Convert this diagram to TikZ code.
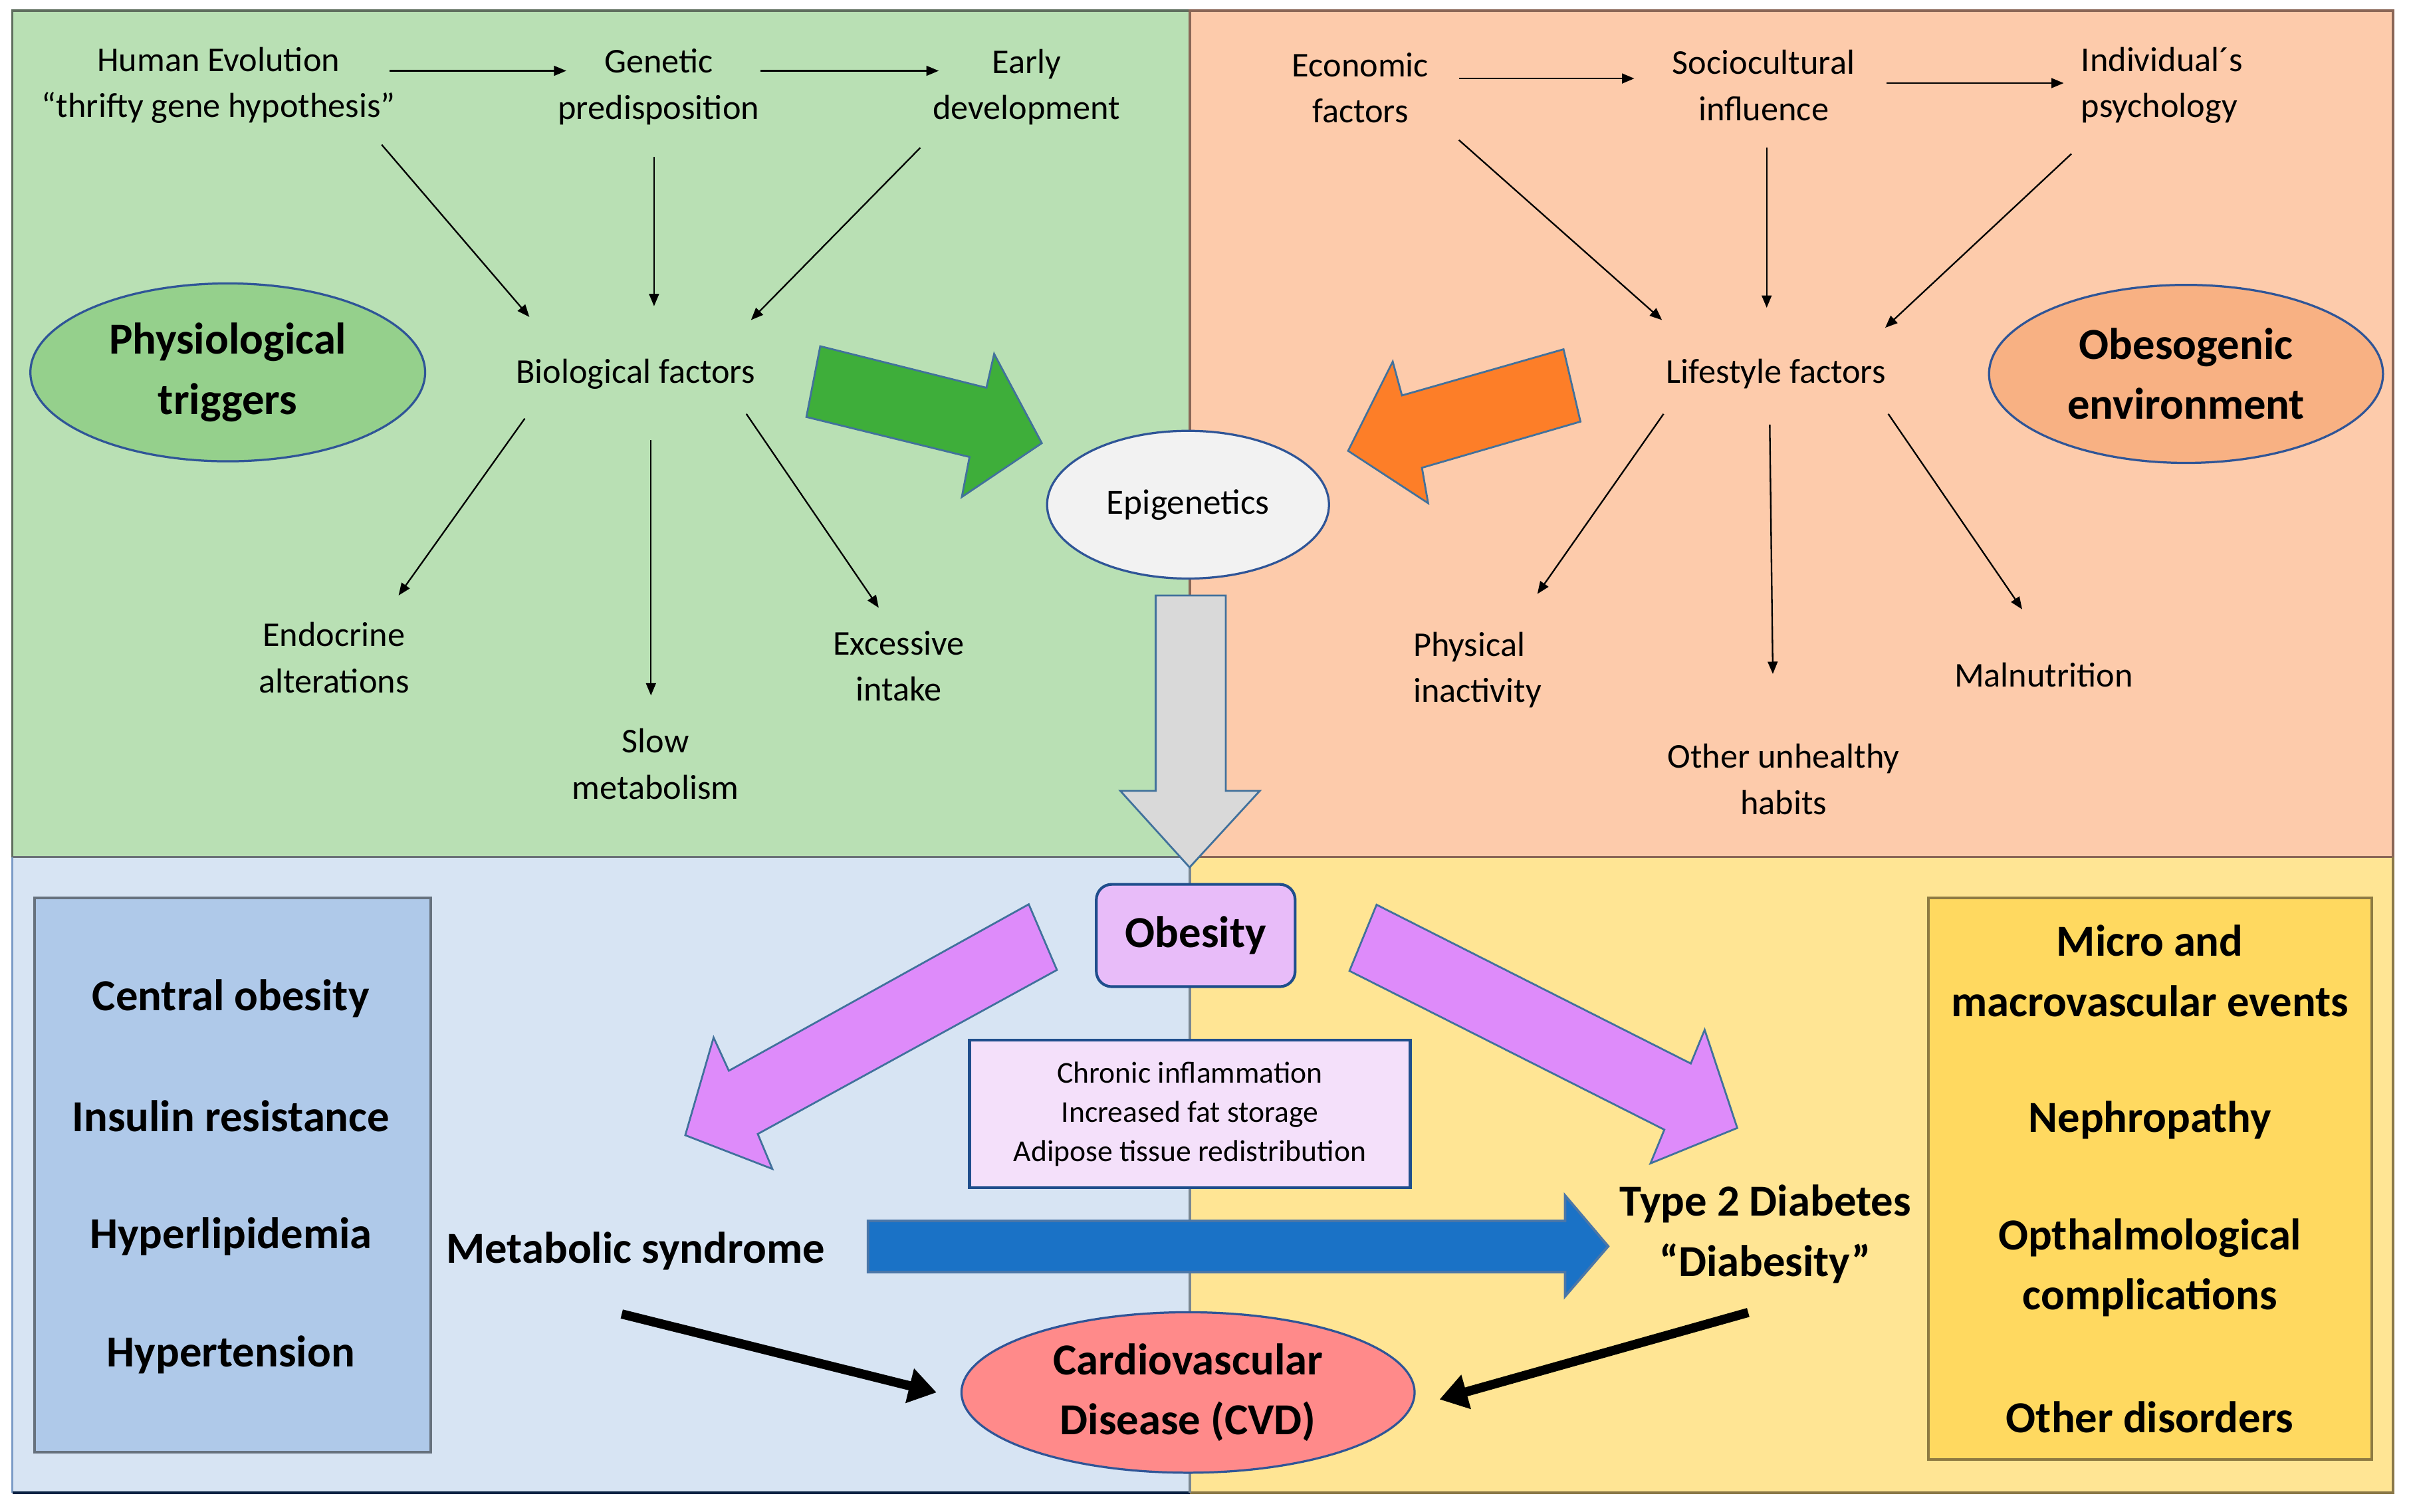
\documentclass[tikz,border=0pt]{standalone}
\usepackage{fontspec}
\setmainfont{Carlito}
\usetikzlibrary{arrows.meta,shapes.geometric}
\definecolor{qgreen}{HTML}{B9E0B4}
\definecolor{qpeach}{HTML}{FDCBAB}
\definecolor{qblue}{HTML}{D7E4F3}
\definecolor{qyellow}{HTML}{FFE594}
\definecolor{greenedge}{HTML}{5F6E5E}
\definecolor{peachedge}{HTML}{8A6656}
\definecolor{yellowedge}{HTML}{8A7848}
\definecolor{navyedge}{HTML}{0B2344}
\definecolor{leftblue}{HTML}{7B9BC6}
\definecolor{divgray}{HTML}{6B7178}
\definecolor{midgray}{HTML}{7A8791}
\definecolor{boxblue}{HTML}{AFC9E9}
\definecolor{boxblueedge}{HTML}{66717D}
\definecolor{boxyellow}{HTML}{FFD960}
\definecolor{boxyellowedge}{HTML}{8E7A42}
\definecolor{ellgreen}{HTML}{95D08C}
\definecolor{ellorange}{HTML}{F8B183}
\definecolor{ellgray}{HTML}{F2F2F2}
\definecolor{ellred}{HTML}{FF8A8A}
\definecolor{elledge}{HTML}{2F5597}
\definecolor{obfill}{HTML}{E8BCF9}
\definecolor{chfill}{HTML}{F4E0FA}
\definecolor{darkedge}{HTML}{1F4E8C}
\definecolor{arrowedge}{HTML}{41719C}
\definecolor{agreen}{HTML}{3EAE3A}
\definecolor{aorange}{HTML}{FD7E28}
\definecolor{apurple}{HTML}{DE8BFA}
\definecolor{ablue}{HTML}{1A72C6}
\definecolor{ablueedge}{HTML}{4A76A8}
\definecolor{agray}{HTML}{D9D9D9}

\tikzset{
  lab/.style={align=center, inner sep=0pt, font=\fontsize{11.3}{15}\selectfont},
  big/.style={align=center, inner sep=0pt, font=\fontsize{14.4}{19.5}\selectfont\bfseries},
  tarrow/.style={line width=0.5pt, -{Triangle[length=4pt,width=3.2pt]}},
  fatarrow/.style={line width=3pt, -{Triangle[length=9pt,width=11pt]}},
  blockarrow/.style={draw=arrowedge, line width=0.6pt, line join=miter},
  quadedge/.style={line width=0.85pt},
  oval/.style={ellipse, draw=elledge, line width=0.7pt, inner sep=0pt},
}

\begin{document}
\begin{tikzpicture}[x=0.5pt,y=-0.5pt]
\useasboundingbox (0,0) rectangle (1568,982.3);

% quadrants
\fill[qgreen] (8,7) rectangle (773,557);
\fill[qpeach] (773,7) rectangle (1555,557);
\fill[qblue] (8,557) rectangle (773,970);
\fill[qyellow] (773,557) rectangle (1555,970);
\draw[greenedge,quadedge] (773,7) -- (8,7) -- (8,557);
\draw[divgray,quadedge] (8,557) -- (773,557);
\draw[peachedge,quadedge] (773,557) -- (773,7) -- (1555,7) -- (1555,557) -- cycle;
\draw[leftblue,quadedge] (8,557) -- (8,970);
\draw[navyedge,quadedge] (8,970) -- (773,970);
\draw[yellowedge,quadedge] (773,970) -- (1555,970) -- (1555,557);
\draw[midgray,quadedge] (773,557) -- (773,970);

% top-left labels
\node[lab] (hum) at (142,55.5) {Human Evolution\\“thrifty gene hypothesis”};
\node[lab] (gen) at (428,56.5) {Genetic\\predisposition};
\node[lab] (early) at (667,56.5) {Early\\development};
\node[lab] (bio) at (413,243) {Biological factors};
\node[lab] (endo) at (217,427.5) {Endocrine\\alterations};
\node[lab] (slow) at (426,496.5) {Slow\\metabolism};
\node[lab] (exc) at (584,433) {Excessive\\intake};

% top-right labels
\node[lab] (eco) at (884,57) {Economic\\factors};
\node[lab] (soc) at (1146,55.5) {Sociocultural\\influence};
\node[lab, align=left] (ind) at (1405,55.5) {Individual´s\\psychology};
\node[lab] (life) at (1154,243) {Lifestyle factors};
\node[lab, align=left] (phys) at (960,435.5) {Physical\\inactivity};
\node[lab] (other) at (1159,506.5) {Other unhealthy\\habits};
\node[lab] (mal) at (1328,438.5) {Malnutrition};

% thin arrows, left
\draw[tarrow] ([shift={(111,-9.5)}]hum.center) -- ([shift={(-60,-10.5)}]gen.center);
\draw[tarrow] ([shift={(66,-10.5)}]gen.center) -- ([shift={(-57,-10.5)}]early.center);
\draw[tarrow] ([shift={(106,38.5)}]hum.center) -- ([shift={(-69,-37)}]bio.center);
\draw[tarrow] ([shift={(-3,45.5)}]gen.center) -- ([shift={(12,-44)}]bio.center);
\draw[tarrow] ([shift={(-69,39.5)}]early.center) -- ([shift={(75,-35)}]bio.center);
\draw[tarrow] ([shift={(-72,29)}]bio.center) -- ([shift={(42,-40.5)}]endo.center);
\draw[tarrow] ([shift={(10,43)}]bio.center) -- ([shift={(-3,-44.5)}]slow.center);
\draw[tarrow] ([shift={(72,26)}]bio.center) -- ([shift={(-13,-38)}]exc.center);

% thin arrows, right
\draw[tarrow] ([shift={(64,-6)}]eco.center) -- ([shift={(-84,-4.5)}]soc.center);
\draw[tarrow] ([shift={(80,-1.5)}]soc.center) -- ([shift={(-64,-1.5)}]ind.center);
\draw[tarrow] ([shift={(64,34)}]eco.center) -- ([shift={(-74,-35)}]life.center);
\draw[tarrow] ([shift={(2,40.5)}]soc.center) -- ([shift={(-6,-43)}]life.center);
\draw[tarrow] ([shift={(-59,44.5)}]ind.center) -- ([shift={(71,-30)}]life.center);
\draw[tarrow] ([shift={(-73,26)}]life.center) -- ([shift={(39,-49.5)}]phys.center);
\draw[tarrow] ([shift={(-4,33)}]life.center) -- ([shift={(-7,-68.5)}]other.center);
\draw[tarrow] ([shift={(73,26)}]life.center) -- ([shift={(-14,-42.5)}]mal.center);

% ellipses top
\node[oval, fill=ellgreen, minimum width=128.25pt, minimum height=57.8pt, big] (physio) at (148,242) {Physiological\\triggers};
\node[oval, fill=ellorange, minimum width=128pt, minimum height=57.85pt, big] (obeso) at (1420.5,243) {Obesogenic\\environment};
\node[oval, fill=ellgray, minimum width=91.6pt, minimum height=48pt, font=\fontsize{11.5}{14}\selectfont] (epi) at (772,328) {Epigenetics};

% block arrows top
\filldraw[blockarrow, fill=agreen] (533,225) -- (641,252) -- (646,230) -- (677,288) -- (625,323) -- (630,297) -- (524,271) -- cycle;
\filldraw[blockarrow, fill=aorange] (1016,227) -- (1027,274) -- (924,304) -- (928,327) -- (876,293) -- (905,235) -- (911,257) -- cycle;
\filldraw[blockarrow, fill=agray] (751,387) -- (796.5,387) -- (796.5,514) -- (818.6,514) -- (773,563.7) -- (728,514) -- (751,514) -- cycle;

% bottom block arrows
\filldraw[blockarrow, fill=apurple] (668.5,587.7) -- (686.8,630.4) -- (492.4,737) -- (501.9,759.7) -- (445.3,737.8) -- (463.7,674.3) -- (473.6,695.9) -- cycle;
\filldraw[blockarrow, fill=apurple] (894.5,588) -- (1098.7,691.2) -- (1107.7,669.3) -- (1128.9,733.1) -- (1072.5,756.1) -- (1081.5,734.2) -- (876.9,631) -- cycle;
\filldraw[draw=ablueedge, line width=0.8pt, fill=ablue, line join=miter] (564,793.5) -- (1017,793.5) -- (1017,777) -- (1045,810) -- (1017,842.5) -- (1017,826.7) -- (564,826.7) -- cycle;

% center boxes
\node[draw=darkedge, fill=obfill, line width=0.9pt, rounded corners=5pt, minimum width=64.6pt, minimum height=33.25pt, big] (obe) at (777,608) {Obesity};
\node[draw=darkedge, fill=chfill, line width=0.9pt, minimum width=143.2pt, minimum height=48pt, inner sep=0pt, align=center, font=\fontsize{9.85}{12.8}\selectfont] (chr) at (773.2,724) {Chronic inflammation\\Increased fat storage\\Adipose tissue redistribution};

% side boxes
\node[draw=boxblueedge, fill=boxblue, line width=0.85pt, minimum width=128.75pt, minimum height=180.15pt, inner sep=0pt] (mbox) at (151.2,763.8) {};
\node[big] (co) at (150,649) {Central obesity};
\node[big] (ir) at (150,725.5) {Insulin resistance};
\node[big] (hl) at (150,803.5) {Hyperlipidemia};
\node[big] (ht) at (150,880.5) {Hypertension};

\node[draw=boxyellowedge, fill=boxyellow, line width=0.85pt, minimum width=144pt, minimum height=182.5pt, inner sep=0pt] (dbox) at (1397,766) {};
\node[big] (micro) at (1397,631) {Micro and\\macrovascular events};
\node[big] (neph) at (1397,728) {Nephropathy};
\node[big] (opth) at (1397,824) {Opthalmological\\complications};
\node[big] (otherd) at (1397,921) {Other disorders};

% bottom labels
\node[big] (met) at (413,813) {Metabolic syndrome};
\node[big] (t2d) at (1147,802) {Type 2 Diabetes\\“Diabesity”};
\node[oval, fill=ellred, minimum width=147.2pt, minimum height=52.15pt, big] (cvd) at (772,905) {Cardiovascular\\Disease (CVD)};

% thick black arrows
\draw[fatarrow] ([shift={(-9,41)}]met.center) -- ([shift={(-15.5,0)}]cvd.west);
\draw[fatarrow] ([shift={(-11,51)}]t2d.center) -- ([shift={(15.5,4.5)}]cvd.east);
\end{tikzpicture}
\end{document}
